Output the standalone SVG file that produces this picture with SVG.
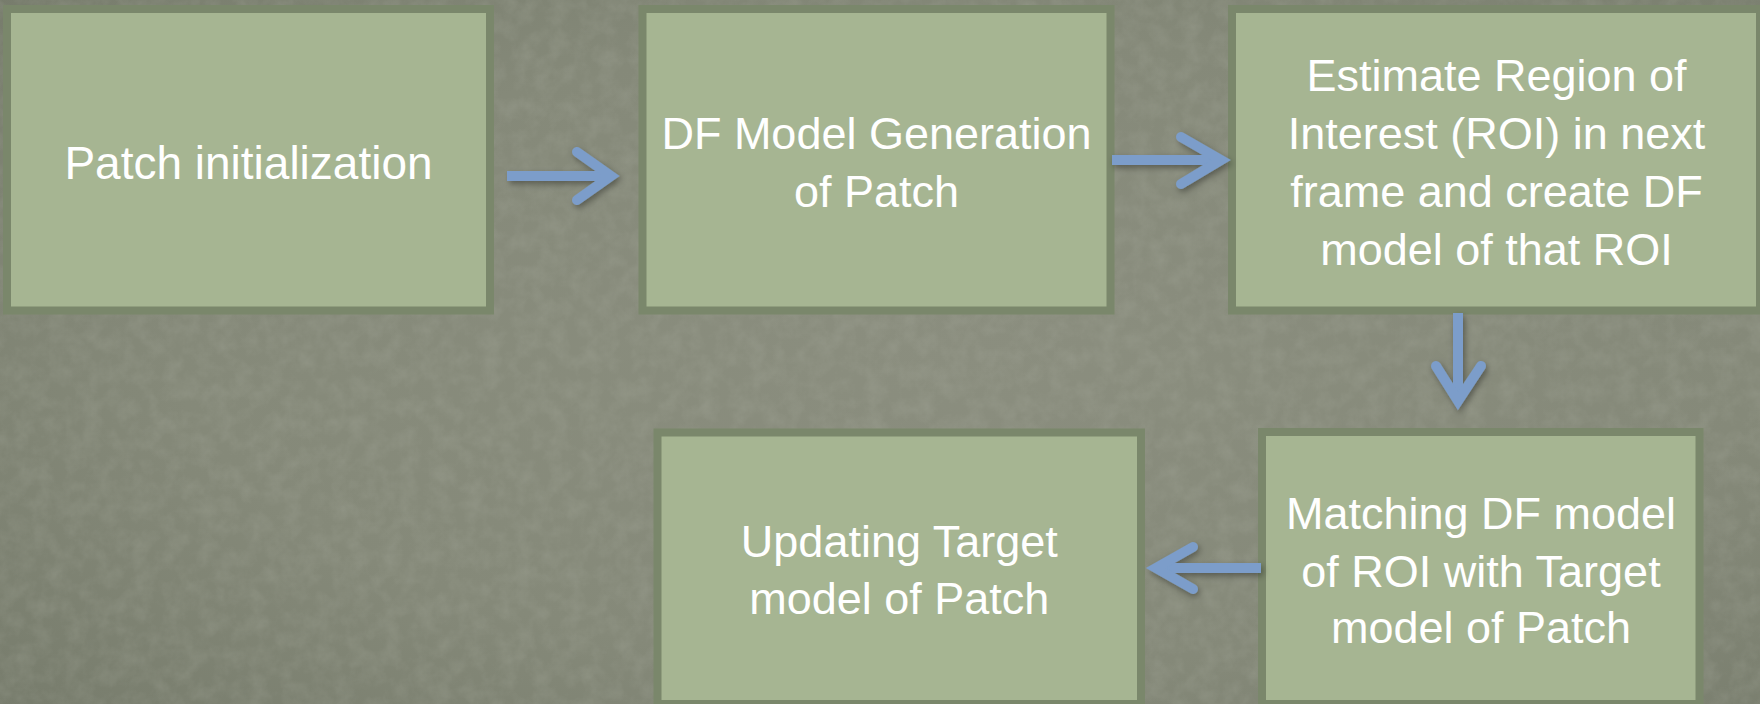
<svg xmlns="http://www.w3.org/2000/svg" width="1760" height="704" viewBox="0 0 1760 704">
  <style>
    .box { fill: #a6b592; stroke: #7a876b; stroke-width: 8; }
    .lbl { font-family: "Liberation Sans", Arial, sans-serif; font-size: 45px; fill: #ffffff; text-anchor: middle; }
    .shaft { fill: none; stroke: #7b9dca; stroke-width: 10; stroke-linecap: butt; }
    .head { fill: none; stroke: #7b9dca; stroke-width: 10; stroke-linecap: round; stroke-linejoin: miter; stroke-miterlimit: 10; }
  </style>
  <defs>
    <radialGradient id="bgGrad" cx="0.55" cy="0.5" r="0.75">
      <stop offset="0" stop-color="#8b8e7f"/>
      <stop offset="0.6" stop-color="#858979"/>
      <stop offset="1" stop-color="#777c6c"/>
    </radialGradient>
    <filter id="grain" x="0" y="0" width="100%" height="100%">
      <feTurbulence type="fractalNoise" baseFrequency="0.06" numOctaves="4" seed="7" result="n"/>
      <feColorMatrix in="n" type="matrix" values="0 0 0 0 0.45  0 0 0 0 0.47  0 0 0 0 0.40  0 0 0 -1.6 1.05"/>
    </filter>
    <filter id="shadow" x="-30%" y="-30%" width="160%" height="160%">
      <feDropShadow dx="2" dy="3" stdDeviation="3" flood-color="#000000" flood-opacity="0.35"/>
    </filter>
  </defs>

  <!-- textured backdrop -->
  <rect x="0" y="0" width="1760" height="704" fill="url(#bgGrad)"/>
  <rect x="0" y="0" width="1760" height="704" filter="url(#grain)" opacity="0.22"/>

  <g id="node-patch-init">
    <rect class="box" x="7" y="9" width="483" height="301.5"/>
    <text class="lbl" x="248.5" y="178.5" style="font-size:46px">Patch initialization</text>
  </g>

  <g id="node-df-model">
    <rect class="box" x="642.5" y="9" width="468" height="301.5"/>
    <text class="lbl" x="876.5" y="149">DF Model Generation</text>
    <text class="lbl" x="876.5" y="206.7">of Patch</text>
  </g>

  <g id="node-estimate-roi">
    <rect class="box" x="1232" y="9" width="528" height="301.5"/>
    <text class="lbl" x="1496.5" y="90.7">Estimate Region of</text>
    <text class="lbl" x="1496.5" y="149">Interest (ROI) in next</text>
    <text class="lbl" x="1496.5" y="206.7">frame and create DF</text>
    <text class="lbl" x="1496.5" y="265">model of that ROI</text>
  </g>

  <g id="node-matching">
    <rect class="box" x="1262" y="432" width="437.5" height="272"/>
    <text class="lbl" x="1481" y="529.3">Matching DF model</text>
    <text class="lbl" x="1481" y="586.7">of ROI with Target</text>
    <text class="lbl" x="1481" y="643.3">model of Patch</text>
  </g>

  <g id="node-update-target">
    <rect class="box" x="657.5" y="432.5" width="483.5" height="271.5"/>
    <text class="lbl" x="899.3" y="556.7">Updating Target</text>
    <text class="lbl" x="899.3" y="614.3">model of Patch</text>
  </g>

  <g id="connectors" filter="url(#shadow)">
    <!-- init -> DF model -->
    <line class="shaft" x1="507" y1="176" x2="608" y2="176"/>
    <polyline class="head" points="577,152 611,176 577,200"/>
    <!-- DF model -> ROI estimate -->
    <line class="shaft" x1="1112" y1="160" x2="1218" y2="160"/>
    <polyline class="head" points="1181,137 1221,160 1181,184"/>
    <!-- ROI estimate -> matching -->
    <line class="shaft" x1="1458" y1="313" x2="1458" y2="398"/>
    <polyline class="head" points="1436,366 1458,401 1481,366"/>
    <!-- matching -> update target -->
    <line class="shaft" x1="1261" y1="568" x2="1159" y2="568"/>
    <polyline class="head" points="1193,547 1156,568 1193,589"/>
  </g>
</svg>
